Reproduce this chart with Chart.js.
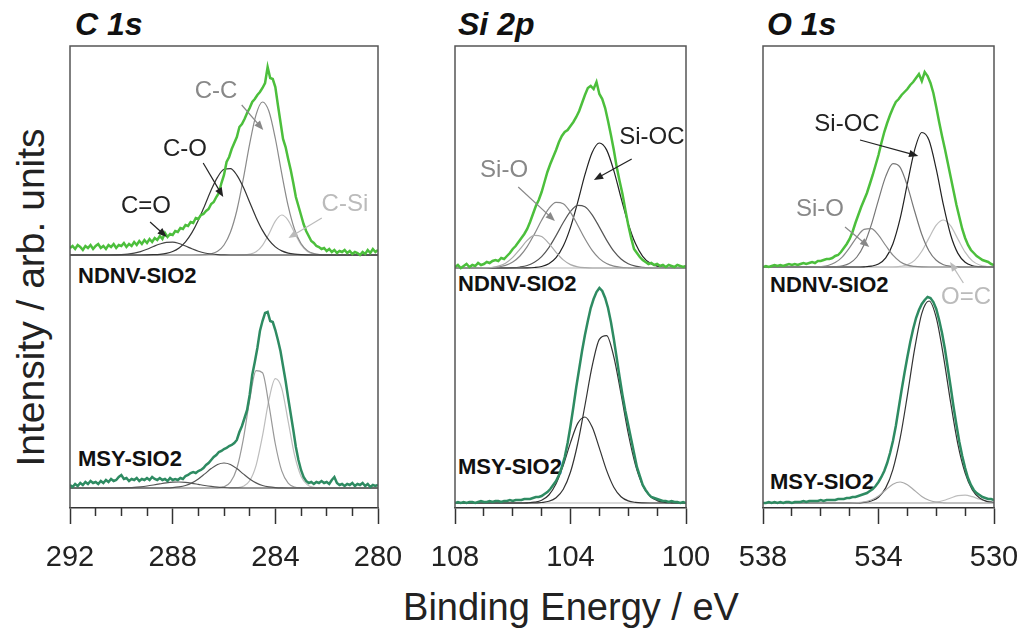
<!DOCTYPE html>
<html>
<head>
<meta charset="utf-8">
<script src="https://cdn.jsdelivr.net/npm/chart.js@4.4.1/dist/chart.umd.min.js"></script>
<style>
  html, body { margin: 0; padding: 0; background: #fff; overflow: hidden; }
  body { width: 1021px; height: 630px; position: relative; font-family: "Liberation Sans", Arial, sans-serif; }
  canvas { position: absolute; }
  .t { position: absolute; white-space: nowrap; line-height: 1; color: #111; }
  .ttl { font-size: 32px; font-weight: bold; font-style: italic; top: 8px; }
  .smp { font-size: 22px; font-weight: bold; }
</style>
</head>
<body>
<div class="t ttl" style="left:75px">C 1s</div>
<div class="t ttl" style="left:458px">Si 2p</div>
<div class="t ttl" style="left:767px">O 1s</div>

<div class="t smp" style="left:78px;top:265px">NDNV-SIO2</div>
<div class="t smp" style="left:458px;top:273px">NDNV-SIO2</div>
<div class="t smp" style="left:770px;top:274px">NDNV-SIO2</div>
<div class="t smp" style="left:78px;top:448px">MSY-SIO2</div>
<div class="t smp" style="left:458px;top:456px">MSY-SIO2</div>
<div class="t smp" style="left:770px;top:471px">MSY-SIO2</div>

<div class="t" style="left:-180px;top:278px;width:420px;height:39px;line-height:39px;font-size:39px;text-align:center;transform:rotate(-90deg);color:#222">Intensity / arb. units</div>
<div class="t" style="left:371px;top:588px;width:400px;font-size:38px;text-align:center;color:#222">Binding Energy / eV</div>

<canvas id="c1s" width="398" height="542" style="left:25px;top:36px"></canvas>
<canvas id="si2p" width="321" height="542" style="left:410px;top:36px"></canvas>
<canvas id="o1s" width="321" height="542" style="left:718px;top:36px"></canvas>

<script>
// ---- C 1s ----
const c1sMajor = [292, 288, 284, 280];
const c1sMinor = [291, 290, 289, 287, 286, 285, 283, 282, 281];
const c1sE = [292.0,291.9,291.8,291.7,291.6,291.5,291.4,291.3,291.2,291.1,
  291.0,290.9,290.8,290.7,290.6,290.5,290.4,290.3,290.2,290.1,
  290.0,289.9,289.8,289.7,289.6,289.5,289.4,289.3,289.2,289.1,
  289.0,288.9,288.8,288.7,288.6,288.5,288.4,288.3,288.2,288.1,
  288.0,287.9,287.8,287.7,287.6,287.5,287.4,287.3,287.2,287.1,
  287.0,286.9,286.8,286.7,286.6,286.5,286.4,286.3,286.2,286.1,
  286.0,285.9,285.8,285.7,285.6,285.5,285.4,285.3,285.2,285.1,
  285.0,284.9,284.8,284.7,284.6,284.5,284.4,284.3,284.2,284.1,
  284.0,283.9,283.8,283.7,283.6,283.5,283.4,283.3,283.2,283.1,
  283.0,282.9,282.8,282.7,282.6,282.5,282.4,282.3,282.2,282.1,
  282.0,281.9,281.8,281.7,281.6,281.5,281.4,281.3,281.2,281.1,
  281.0,280.9,280.8,280.7,280.6,280.5,280.4,280.3,280.2,280.1,
  280.0];
const c1sNdnv = [7,9,6,10,8,5,9,7,10,6,
  9,11,7,9,6,10,8,11,7,10,
  9,12,8,11,9,13,10,14,11,15,
  12,16,13,17,15,19,16,22,18,21,
  20,24,23,27,26,30,29,33,32,37,
  36,40,41,44,46,51,53,58,62,72,
  80,93,98,106,112,118,128,131,136,142,
  147,153,156,160,163,167,172,188,177,176,
  168,150,133,116,108,96,85,72,58,49,
  40,31,24,19,14,12,9,8,6,7,
  4,6,3,5,2,4,3,5,2,4,
  1,3,2,0,3,1,5,2,6,3,
  5];
const c1sMsy = [3,1,4,2,5,3,6,4,7,5,
  6,4,7,5,8,6,9,7,8,11,
  13,9,10,7,9,8,10,7,9,8,
  10,8,11,9,8,10,8,9,7,10,
  8,9,8,10,9,12,13,15,16,15,
  17,18,20,23,25,28,31,33,36,37,
  39,40,42,43,45,48,56,62,70,78,
  93,113,126,140,157,167,175,176,167,166,
  158,148,137,122,107,90,74,58,41,28,
  18,11,7,5,6,4,6,5,7,5,
  6,4,8,11,5,3,4,2,4,3,
  5,2,4,3,5,2,4,1,3,2,
  3];
const c1sFitE = [292,291.75,291.5,291.25,291,290.75,290.5,290.25,290,289.75,289.5,289.25,289,
  288.75,288.5,288.25,288,287.75,287.5,287.25,287,286.75,286.5,286.25,286,285.75,285.5,
  285.25,285,284.75,284.5,284.25,284,283.75,283.5,283.25,283,282.75,282.5,282.25,282,
  281.75,281.5,281.25,281,280.75,280.5,280.25,280];
const c1sNdnvCdO = [0,0,0,0,0,0,0,0.1,0.3,0.8,1.8,3.4,5.7,8.5,11.0,12.7,12.9,11.5,9.0,6.2,3.8,2.0,1.0,0.4,0.1,
  0,0,0,0,0,0,0,0,0,0,0,0,0,0,0,0,0,0,0,0,0,0,0,0];
const c1sNdnvCO = [0,0,0,0,0,0,0,0,0,0,0,0,0.1,0.3,0.7,1.6,3.5,7.1,13.2,22.4,34.8,49.6,65.0,77.9,85.7,86.4,
  79.9,67.9,52.8,37.6,24.6,14.8,8.1,4.1,1.9,0.8,0.3,0.1,0,0,0,0,0,0,0,0,0,0,0];
const c1sNdnvCC = [0,0,0,0,0,0,0,0,0,0,0,0,0,0,0,0,0,0,0,0,0.1,0.3,1.2,3.7,10.0,22.7,44.5,75.8,111.1,140.4,
  153,143.7,116.5,81.4,49.1,25.5,11.5,4.4,1.5,0.4,0.1,0,0,0,0,0,0,0,0];
const c1sNdnvCSi = [0,0,0,0,0,0,0,0,0,0,0,0,0,0,0,0,0,0,0,0,0,0,0,0,0,0,0,0.1,0.8,3.2,9.6,21.0,33.9,40,
  34.7,22.1,10.3,3.6,0.9,0.2,0,0,0,0,0,0,0,0,0];
const c1sMsyCdO = [0,0,0,0,0,0,0,0,0.1,0.3,0.6,1.2,2.0,3.0,4.1,5.1,5.8,6.0,5.6,4.7,3.6,2.5,1.6,0.9,0.5,0.2,0.1,
  0,0,0,0,0,0,0,0,0,0,0,0,0,0,0,0,0,0,0,0,0,0];
const c1sMsyCO = [0,0,0,0,0,0,0,0,0,0,0,0,0,0,0,0.1,0.4,1.1,2.5,5.1,9.0,14.1,19.4,23.5,25,23.5,19.4,14.1,
  9.0,5.1,2.5,1.1,0.4,0.1,0,0,0,0,0,0,0,0,0,0,0,0,0,0,0];
const c1sMsyCC = [0,0,0,0,0,0,0,0,0,0,0,0,0,0,0,0,0,0,0,0,0,0,0,0.2,1.3,5.8,19.5,48.3,87.9,117.4,115.3,
  83.1,44.0,17.1,4.9,1.0,0.2,0,0,0,0,0,0,0,0,0,0,0,0];
const c1sMsyCSi = [0,0,0,0,0,0,0,0,0,0,0,0,0,0,0,0,0,0,0,0,0,0,0,0,0,0,0.3,1.7,7.2,22.7,52.1,88.1,109.3,
  99.7,66.7,32.8,11.8,3.1,0.6,0.1,0,0,0,0,0,0,0,0,0];
const c1sNdnvOff = 253;
const c1sMsyOff = 20;

// ---- Si 2p ----
const si2pMajor = [108, 104, 100];
const si2pMinor = [107, 106, 105, 103, 102, 101];
const si2pE = [108.0,107.9,107.8,107.7,107.6,107.5,107.4,107.3,107.2,107.1,
  107.0,106.9,106.8,106.7,106.6,106.5,106.4,106.3,106.2,106.1,
  106.0,105.9,105.8,105.7,105.6,105.5,105.4,105.3,105.2,105.1,
  105.0,104.9,104.8,104.7,104.6,104.5,104.4,104.3,104.2,104.1,
  104.0,103.9,103.8,103.7,103.6,103.5,103.4,103.3,103.2,103.1,
  103.0,102.9,102.8,102.7,102.6,102.5,102.4,102.3,102.2,102.1,
  102.0,101.9,101.8,101.7,101.6,101.5,101.4,101.3,101.2,101.1,
  101.0,100.9,100.8,100.7,100.6,100.5,100.4,100.3,100.2,100.1,
  100.0];
const si2pNdnv = [1,3,0,2,4,1,3,2,5,3,
  4,6,5,7,8,7,10,9,12,15,
  19,22,26,30,34,39,46,54,62,68,
  76,86,96,104,111,118,126,132,136,138,
  142,146,151,157,165,173,180,182,179,186,
  174,169,160,147,133,118,101,87,74,58,
  43,30,19,15,11,8,6,4,5,3,
  4,2,3,1,3,2,1,3,2,1,
  2];
const si2pMsy = [0,1,0,1,0,1,1,0,1,2,
  1,1,2,1,2,2,1,2,2,3,
  2,3,3,3,4,4,4,5,6,6,
  7,9,11,14,18,22,28,36,46,60,
  77,96,116,134,152,168,182,195,204,211,
  215,212,205,195,181,164,145,126,108,92,
  78,64,50,36,27,18,13,9,6,5,
  4,3,2,2,1,2,1,1,0,1,
  0];
const si2pFitE = [108,107.75,107.5,107.25,107,106.75,106.5,106.25,106,105.75,105.5,105.25,105,
  104.75,104.5,104.25,104,103.75,103.5,103.25,103,102.75,102.5,102.25,102,101.75,101.5,
  101.25,101,100.75,100.5,100.25,100];
const si2pNdnvA = [0,0,0,0,0.1,0.5,1.8,4.8,10.6,18.9,27.6,32.7,31.5,24.6,15.7,8.1,3.4,1.2,0.3,
  0,0,0,0,0,0,0,0,0,0,0,0,0,0];
const si2pNdnvSiO = [0,0,0,0,0.1,0.4,1.0,2.6,5.9,12.0,21.4,33.9,47.7,59.4,65.6,64.2,55.7,42.8,29.2,17.6,
  9.4,4.5,1.9,0.7,0.2,0,0,0,0,0,0,0,0];
const si2pNdnvB = [0,0,0,0,0,0,0,0.1,0.3,1.0,2.5,5.7,11.4,20.4,32.4,45.5,56.7,62.6,61.3,53.2,40.9,27.9,
  16.8,9.0,4.3,1.8,0.7,0.2,0,0,0,0,0];
const si2pNdnvSiOC = [0,0,0,0,0,0,0,0,0,0,0.1,0.5,1.5,4.2,10.3,21.9,40.6,65.8,93.3,115.5,125,118.1,97.4,
  70.2,44.3,24.4,11.7,4.9,1.8,0.6,0.2,0,0];
const si2pMsyA = [0,0,0,0,0,0,0,0,0,0,0.2,0.8,2.7,8.0,19.2,37.6,60.4,79.6,86,75.9,54.9,32.6,15.8,6.3,2.1,
  0.6,0.1,0,0,0,0,0,0];
const si2pMsySiOC = [0,0,0,0,0,0,0,0,0,0,0,0,0.5,1.7,5.3,13.8,31.0,59.5,97.5,136.8,163.6,167.3,146.1,109.0,
  69.5,37.9,17.6,7.0,2.4,0.7,0.2,0,0];
const si2pNdnvOff = 240;
const si2pMsyOff = 5;

// ---- O 1s ----
const o1sMajor = [538, 534, 530];
const o1sMinor = [537, 536, 535, 533, 532, 531];
const o1sE = [538.0,537.9,537.8,537.7,537.6,537.5,537.4,537.3,537.2,537.1,
  537.0,536.9,536.8,536.7,536.6,536.5,536.4,536.3,536.2,536.1,
  536.0,535.9,535.8,535.7,535.6,535.5,535.4,535.3,535.2,535.1,
  535.0,534.9,534.8,534.7,534.6,534.5,534.4,534.3,534.2,534.1,
  534.0,533.9,533.8,533.7,533.6,533.5,533.4,533.3,533.2,533.1,
  533.0,532.9,532.8,532.7,532.6,532.5,532.4,532.3,532.2,532.1,
  532.0,531.9,531.8,531.7,531.6,531.5,531.4,531.3,531.2,531.1,
  531.0,530.9,530.8,530.7,530.6,530.5,530.4,530.3,530.2,530.1,
  530.0];
const o1sNdnv = [0,1,0,1,2,1,2,1,2,3,
  2,3,2,3,4,3,4,5,4,6,
  6,7,8,8,9,11,12,15,19,23,
  28,35,44,52,60,67,74,83,92,102,
  112,124,135,144,152,159,165,168,172,175,
  178,182,185,189,193,186,195,191,184,174,
  160,145,131,118,104,90,76,62,50,38,
  29,22,17,14,11,9,7,6,5,3,
  2];
const o1sMsy = [0,0,1,0,1,0,1,0,1,1,
  0,1,1,1,2,1,2,2,2,2,
  3,2,3,3,3,3,4,4,4,5,
  5,6,6,7,8,9,10,12,14,17,
  21,26,32,40,50,62,77,95,113,130,
  146,161,174,185,193,199,203,206,205,201,
  194,183,170,154,135,116,96,78,61,47,
  35,25,18,13,10,8,6,5,4,4,
  3];
const o1sFitE = [538,537.75,537.5,537.25,537,536.75,536.5,536.25,536,535.75,535.5,535.25,535,
  534.75,534.5,534.25,534,533.75,533.5,533.25,533,532.75,532.5,532.25,532,531.75,531.5,
  531.25,531,530.75,530.5,530.25,530];
const o1sNdnvSiO = [0,0,0,0,0,0,0,0.1,0.4,1.5,4.4,10.2,19.4,29.9,37.6,38.4,31.8,21.5,11.8,5.3,1.9,0.6,0.1,
  0,0,0,0,0,0,0,0,0,0];
const o1sNdnvMid = [0,0,0,0,0,0,0,0,0,0,0.3,1.2,3.8,10.0,22.3,42.1,67.2,90.6,103.3,99.6,81.1,56.0,32.5,16.0,
  6.7,2.3,0.7,0.2,0,0,0,0,0];
const o1sNdnvSiOC = [0,0,0,0,0,0,0,0,0,0,0,0,0,0,0.2,0.8,2.9,9.1,23.3,48.6,83.3,116.9,134.5,126.7,97.8,61.8,
  32.0,13.6,4.7,1.3,0.3,0,0];
const o1sNdnvOC = [0,0,0,0,0,0,0,0,0,0,0,0,0,0,0,0,0,0,0,0.6,2.2,6.6,15.7,29.1,41.9,47,41.1,27.9,14.8,6.1,
  2.0,0.5,0.1];
const o1sMsyLeft = [0,0,0,0,0,0,0,0,0,0,0,0,0,0.3,1.0,3.0,7.0,13.0,18.7,21,18.3,12.5,6.6,2.7,0.9,0.2,
  0,0,0,0,0,0,0];
const o1sMsyMain = [0,0,0,0,0,0,0,0,0,0,0,0,0,0,0.6,2.0,5.8,15.1,33.7,64.8,107.6,153.8,189.7,202,185.3,146.7,
  100.3,58.6,30.0,13.1,5.0,1.6,0.5];
const o1sMsyRight = [0,0,0,0,0,0,0,0,0,0,0,0,0,0,0,0,0,0,0,0,0,0,0,0.2,0.9,2.5,5.0,7.3,7.9,6.3,3.7,1.6,0.5];
const o1sNdnvOff = 241;
const o1sMsyOff = 5;

// labels with arrows: text centre, arrow start, arrow end (energy, intensity)
const c1sNotes = [
  { text: 'C-C', color: '#888', at: [286.31, 417], from: [285.31, 403], to: [284.47, 378] },
  { text: 'C-O', color: '#222', at: [287.52, 359], from: [286.81, 345], to: [286.03, 311] },
  { text: 'C=O', color: '#222', at: [289.04, 302], from: [288.88, 286], to: [288.23, 271] },
  { text: 'C-Si', color: '#bbb', at: [281.29, 304], from: [282.19, 290], to: [283.49, 270] }
];
const si2pNotes = [
  { text: 'Si-OC', color: '#222', at: [101.18, 371], from: [101.88, 349], to: [103.19, 328] },
  { text: 'Si-O', color: '#888', at: [106.30, 338], from: [105.81, 321], to: [104.54, 287] }
];
const o1sNotes = [
  { text: 'Si-OC', color: '#222', at: [535.09, 384], from: [534.64, 368], to: [532.62, 352] },
  { text: 'Si-O', color: '#888', at: [536.03, 299], from: [535.16, 281], to: [534.32, 261] },
  { text: 'O=C', color: '#bbb', at: [530.97, 211], from: [531.06, 225], to: [531.52, 246] }
];

const ndnvColor = '#4cbf3c';
const msyColor = '#2e8b62';
const font = '"Liberation Sans", Arial, sans-serif';

const framePlugin = {
  id: 'frame',
  afterDraw(chart) {
    const { ctx, chartArea: a } = chart;
    ctx.save();
    ctx.strokeStyle = '#555';
    ctx.lineWidth = 1.5;
    ctx.beginPath();
    ctx.moveTo(a.left, a.bottom);
    ctx.lineTo(a.left, a.top);
    ctx.lineTo(a.right, a.top);
    ctx.lineTo(a.right, a.bottom);
    ctx.stroke();
    ctx.restore();
  }
};

function notesPlugin(notes) {
  return {
    id: 'notes',
    afterDatasetsDraw(chart) {
      const { ctx, scales: { x, y } } = chart;
      notes.forEach(n => {
        ctx.save();
        ctx.fillStyle = n.color;
        ctx.strokeStyle = n.color;
        ctx.font = '24px ' + font;
        ctx.textAlign = 'center';
        ctx.textBaseline = 'middle';
        ctx.fillText(n.text, x.getPixelForValue(n.at[0]), y.getPixelForValue(n.at[1]));
        const x1 = x.getPixelForValue(n.from[0]), y1 = y.getPixelForValue(n.from[1]);
        const x2 = x.getPixelForValue(n.to[0]), y2 = y.getPixelForValue(n.to[1]);
        const ang = Math.atan2(y2 - y1, x2 - x1);
        ctx.lineWidth = 1.2;
        ctx.beginPath();
        ctx.moveTo(x1, y1);
        ctx.lineTo(x2 - 6 * Math.cos(ang), y2 - 6 * Math.sin(ang));
        ctx.stroke();
        ctx.beginPath();
        ctx.moveTo(x2, y2);
        ctx.lineTo(x2 - 10 * Math.cos(ang - 0.38), y2 - 10 * Math.sin(ang - 0.38));
        ctx.lineTo(x2 - 10 * Math.cos(ang + 0.38), y2 - 10 * Math.sin(ang + 0.38));
        ctx.closePath();
        ctx.fill();
        ctx.restore();
      });
    }
  };
}

function series(xs, ys, off, color, width, smooth) {
  return {
    data: xs.map((x, i) => ({ x: x, y: ys[i] + off })),
    borderColor: color,
    borderWidth: width,
    pointRadius: 0,
    fill: false,
    tension: 0,
    cubicInterpolationMode: smooth ? 'monotone' : 'default'
  };
}

function makePanel(id, p) {
  const datasets = [
    series(p.rawE, p.ndnv, p.ndnvOff, ndnvColor, 2.5, false),
    series(p.rawE, p.msy, p.msyOff, msyColor, 2.5, false)
  ];
  p.fits.forEach(f => datasets.push(series(p.fitE, f[0], f[1], f[2], 1.2, true)));
  [p.ndnvOff, p.msyOff].forEach(off => datasets.push({
    data: [{ x: p.max, y: off }, { x: p.min, y: off }],
    borderColor: '#b5b5b5', borderWidth: 1, pointRadius: 0
  }));

  new Chart(document.getElementById(id), {
    type: 'line',
    data: { datasets: datasets },
    options: {
      responsive: false,
      animation: false,
      devicePixelRatio: 1,
      layout: { padding: { left: 45, right: 45, top: 10, bottom: 0 } },
      plugins: { legend: { display: false }, tooltip: { enabled: false } },
      scales: {
        x: {
          type: 'linear', min: p.min, max: p.max, reverse: true,
          afterBuildTicks: s => { s.ticks = p.major.map(v => ({ value: v })); },
          afterFit: s => { s.height = 70; },
          grid: { drawOnChartArea: false, tickLength: 16, tickWidth: 1.5, tickColor: '#333' },
          border: { display: true, color: '#333', width: 1.5 },
          ticks: { font: { size: 29, family: font }, color: '#222', padding: 17, maxRotation: 0, autoSkip: false }
        },
        xMinor: {
          type: 'linear', axis: 'x', position: { y: 0 }, min: p.min, max: p.max, reverse: true,
          afterBuildTicks: s => { s.ticks = p.minor.map(v => ({ value: v })); },
          grid: { drawOnChartArea: false, tickLength: 8, tickWidth: 1.5, tickColor: '#333' },
          border: { display: false },
          ticks: { display: false }
        },
        y: { display: false, min: 0, max: 462 }
      }
    },
    plugins: [framePlugin, notesPlugin(p.notes)]
  });
}

makePanel('c1s', {
  min: 280, max: 292, major: c1sMajor, minor: c1sMinor,
  rawE: c1sE, ndnv: c1sNdnv, msy: c1sMsy, ndnvOff: c1sNdnvOff, msyOff: c1sMsyOff,
  fitE: c1sFitE,
  fits: [
    [c1sNdnvCdO, c1sNdnvOff, '#444'], [c1sNdnvCO, c1sNdnvOff, '#333'],
    [c1sNdnvCC, c1sNdnvOff, '#8a8a8a'], [c1sNdnvCSi, c1sNdnvOff, '#bdbdbd'],
    [c1sMsyCdO, c1sMsyOff, '#555'], [c1sMsyCO, c1sMsyOff, '#555'],
    [c1sMsyCC, c1sMsyOff, '#999'], [c1sMsyCSi, c1sMsyOff, '#bdbdbd']
  ],
  notes: c1sNotes
});

makePanel('si2p', {
  min: 100, max: 108, major: si2pMajor, minor: si2pMinor,
  rawE: si2pE, ndnv: si2pNdnv, msy: si2pMsy, ndnvOff: si2pNdnvOff, msyOff: si2pMsyOff,
  fitE: si2pFitE,
  fits: [
    [si2pNdnvA, si2pNdnvOff, '#aaa'], [si2pNdnvSiO, si2pNdnvOff, '#888'],
    [si2pNdnvB, si2pNdnvOff, '#555'], [si2pNdnvSiOC, si2pNdnvOff, '#222'],
    [si2pMsyA, si2pMsyOff, '#333'], [si2pMsySiOC, si2pMsyOff, '#333']
  ],
  notes: si2pNotes
});

makePanel('o1s', {
  min: 530, max: 538, major: o1sMajor, minor: o1sMinor,
  rawE: o1sE, ndnv: o1sNdnv, msy: o1sMsy, ndnvOff: o1sNdnvOff, msyOff: o1sMsyOff,
  fitE: o1sFitE,
  fits: [
    [o1sNdnvSiO, o1sNdnvOff, '#888'], [o1sNdnvMid, o1sNdnvOff, '#777'],
    [o1sNdnvSiOC, o1sNdnvOff, '#222'], [o1sNdnvOC, o1sNdnvOff, '#bdbdbd'],
    [o1sMsyLeft, o1sMsyOff, '#aaa'], [o1sMsyMain, o1sMsyOff, '#333'],
    [o1sMsyRight, o1sMsyOff, '#bdbdbd']
  ],
  notes: o1sNotes
});
</script>
</body>
</html>
